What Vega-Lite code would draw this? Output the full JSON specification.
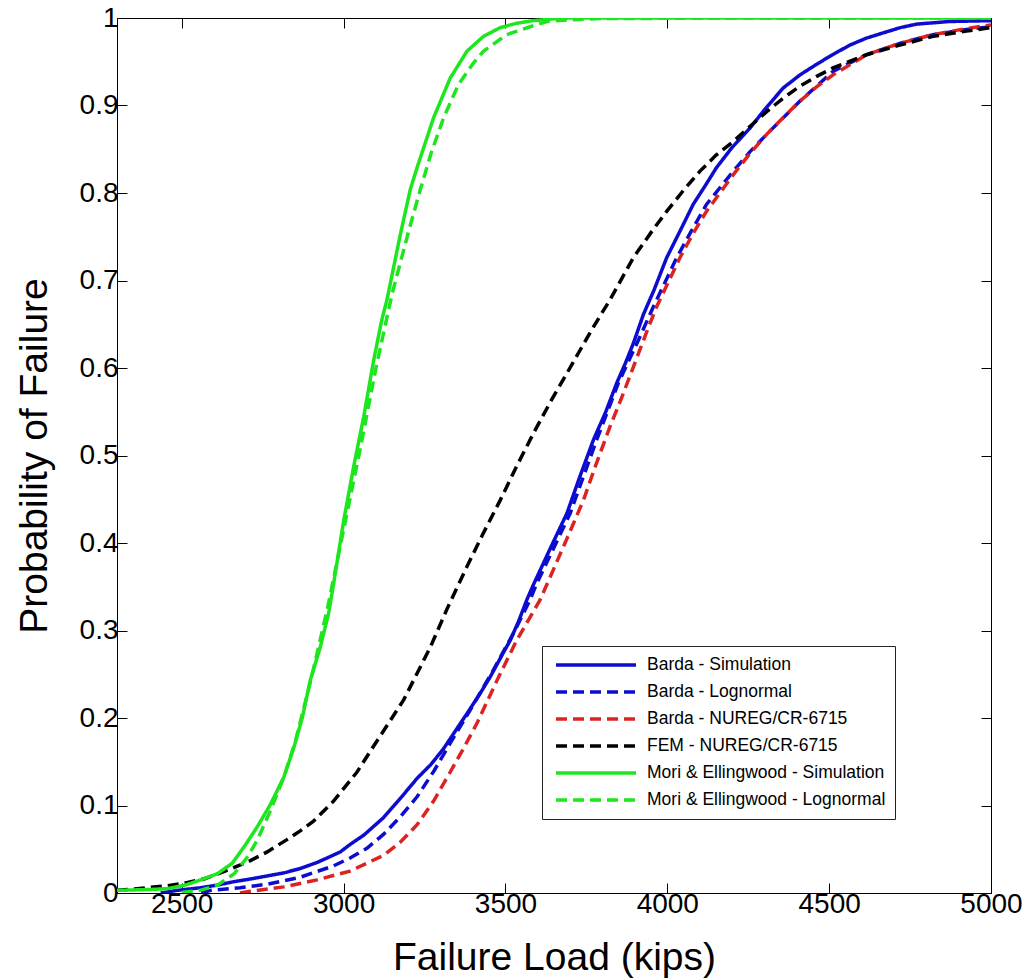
{
"$schema": "https://vega.github.io/schema/vega-lite/v6.json",
"width": 874, "height": 875,
"autosize": {"type": "none"},
"padding": {"left": 117, "top": 18, "right": 36, "bottom": 86},
"background": "white",
"config": {
  "view": {"stroke": "black", "strokeWidth": 1},
  "font": "Liberation Sans",
  "axis": {"domain": false, "grid": false, "tickColor": "black", "tickSize": -10, "tickWidth": 1, "labelFlush": false,
    "labelColor": "black", "titleColor": "black", "labelFont": "Liberation Sans", "titleFont": "Liberation Sans",
    "titleFontWeight": "normal", "labelFontSize": 28, "titleFontSize": 39}
},
"data": {"values": [
{"series":"Barda - Simulation","load":2435,"p":0.0},
{"series":"Barda - Simulation","load":2486,"p":0.003},
{"series":"Barda - Simulation","load":2558,"p":0.006},
{"series":"Barda - Simulation","load":2609,"p":0.009},
{"series":"Barda - Simulation","load":2662,"p":0.013},
{"series":"Barda - Simulation","load":2712,"p":0.016},
{"series":"Barda - Simulation","load":2816,"p":0.023},
{"series":"Barda - Simulation","load":2866,"p":0.028},
{"series":"Barda - Simulation","load":2919,"p":0.035},
{"series":"Barda - Simulation","load":2990,"p":0.047},
{"series":"Barda - Simulation","load":3022,"p":0.056},
{"series":"Barda - Simulation","load":3062,"p":0.066},
{"series":"Barda - Simulation","load":3123,"p":0.086},
{"series":"Barda - Simulation","load":3175,"p":0.108},
{"series":"Barda - Simulation","load":3227,"p":0.131},
{"series":"Barda - Simulation","load":3270,"p":0.147},
{"series":"Barda - Simulation","load":3309,"p":0.165},
{"series":"Barda - Simulation","load":3345,"p":0.185},
{"series":"Barda - Simulation","load":3381,"p":0.205},
{"series":"Barda - Simulation","load":3420,"p":0.227},
{"series":"Barda - Simulation","load":3453,"p":0.247},
{"series":"Barda - Simulation","load":3494,"p":0.275},
{"series":"Barda - Simulation","load":3515,"p":0.289},
{"series":"Barda - Simulation","load":3540,"p":0.31},
{"series":"Barda - Simulation","load":3566,"p":0.335},
{"series":"Barda - Simulation","load":3586,"p":0.352},
{"series":"Barda - Simulation","load":3640,"p":0.395},
{"series":"Barda - Simulation","load":3690,"p":0.434},
{"series":"Barda - Simulation","load":3730,"p":0.476},
{"series":"Barda - Simulation","load":3772,"p":0.518},
{"series":"Barda - Simulation","load":3810,"p":0.55},
{"series":"Barda - Simulation","load":3844,"p":0.583},
{"series":"Barda - Simulation","load":3870,"p":0.605},
{"series":"Barda - Simulation","load":3895,"p":0.628},
{"series":"Barda - Simulation","load":3926,"p":0.661},
{"series":"Barda - Simulation","load":3960,"p":0.69},
{"series":"Barda - Simulation","load":3998,"p":0.726},
{"series":"Barda - Simulation","load":4040,"p":0.757},
{"series":"Barda - Simulation","load":4080,"p":0.787},
{"series":"Barda - Simulation","load":4120,"p":0.81},
{"series":"Barda - Simulation","load":4152,"p":0.829},
{"series":"Barda - Simulation","load":4200,"p":0.852},
{"series":"Barda - Simulation","load":4255,"p":0.874},
{"series":"Barda - Simulation","load":4300,"p":0.895},
{"series":"Barda - Simulation","load":4358,"p":0.92},
{"series":"Barda - Simulation","load":4410,"p":0.935},
{"series":"Barda - Simulation","load":4461,"p":0.947},
{"series":"Barda - Simulation","load":4510,"p":0.958},
{"series":"Barda - Simulation","load":4564,"p":0.969},
{"series":"Barda - Simulation","load":4615,"p":0.977},
{"series":"Barda - Simulation","load":4667,"p":0.983},
{"series":"Barda - Simulation","load":4720,"p":0.989},
{"series":"Barda - Simulation","load":4770,"p":0.993},
{"series":"Barda - Simulation","load":4872,"p":0.996},
{"series":"Barda - Simulation","load":5000,"p":0.997},
{"series":"Barda - Lognormal","load":2560,"p":0.0},
{"series":"Barda - Lognormal","load":2589,"p":0.003},
{"series":"Barda - Lognormal","load":2680,"p":0.006},
{"series":"Barda - Lognormal","load":2764,"p":0.01},
{"series":"Barda - Lognormal","load":2866,"p":0.018},
{"series":"Barda - Lognormal","load":2969,"p":0.031},
{"series":"Barda - Lognormal","load":3020,"p":0.04},
{"series":"Barda - Lognormal","load":3072,"p":0.051},
{"series":"Barda - Lognormal","load":3123,"p":0.067},
{"series":"Barda - Lognormal","load":3175,"p":0.087},
{"series":"Barda - Lognormal","load":3227,"p":0.11},
{"series":"Barda - Lognormal","load":3280,"p":0.14},
{"series":"Barda - Lognormal","load":3329,"p":0.171},
{"series":"Barda - Lognormal","load":3391,"p":0.209},
{"series":"Barda - Lognormal","load":3463,"p":0.255},
{"series":"Barda - Lognormal","load":3504,"p":0.283},
{"series":"Barda - Lognormal","load":3525,"p":0.297},
{"series":"Barda - Lognormal","load":3576,"p":0.335},
{"series":"Barda - Lognormal","load":3597,"p":0.354},
{"series":"Barda - Lognormal","load":3650,"p":0.395},
{"series":"Barda - Lognormal","load":3700,"p":0.434},
{"series":"Barda - Lognormal","load":3740,"p":0.475},
{"series":"Barda - Lognormal","load":3782,"p":0.518},
{"series":"Barda - Lognormal","load":3815,"p":0.55},
{"series":"Barda - Lognormal","load":3849,"p":0.583},
{"series":"Barda - Lognormal","load":3906,"p":0.628},
{"series":"Barda - Lognormal","load":3957,"p":0.67},
{"series":"Barda - Lognormal","load":4029,"p":0.726},
{"series":"Barda - Lognormal","load":4075,"p":0.757},
{"series":"Barda - Lognormal","load":4121,"p":0.787},
{"series":"Barda - Lognormal","load":4204,"p":0.825},
{"series":"Barda - Lognormal","load":4255,"p":0.847},
{"series":"Barda - Lognormal","load":4307,"p":0.867},
{"series":"Barda - Lognormal","load":4410,"p":0.905},
{"series":"Barda - Lognormal","load":4512,"p":0.939},
{"series":"Barda - Lognormal","load":4615,"p":0.958},
{"series":"Barda - Lognormal","load":4718,"p":0.971},
{"series":"Barda - Lognormal","load":4821,"p":0.981},
{"series":"Barda - Lognormal","load":4924,"p":0.987},
{"series":"Barda - Lognormal","load":5000,"p":0.99},
{"series":"Barda - NUREG/CR-6715","load":2680,"p":0.0},
{"series":"Barda - NUREG/CR-6715","load":2712,"p":0.002},
{"series":"Barda - NUREG/CR-6715","load":2815,"p":0.007},
{"series":"Barda - NUREG/CR-6715","load":2918,"p":0.015},
{"series":"Barda - NUREG/CR-6715","load":3020,"p":0.025},
{"series":"Barda - NUREG/CR-6715","load":3123,"p":0.043},
{"series":"Barda - NUREG/CR-6715","load":3175,"p":0.058},
{"series":"Barda - NUREG/CR-6715","load":3227,"p":0.078},
{"series":"Barda - NUREG/CR-6715","load":3278,"p":0.105},
{"series":"Barda - NUREG/CR-6715","load":3329,"p":0.138},
{"series":"Barda - NUREG/CR-6715","load":3370,"p":0.165},
{"series":"Barda - NUREG/CR-6715","load":3412,"p":0.194},
{"series":"Barda - NUREG/CR-6715","load":3474,"p":0.243},
{"series":"Barda - NUREG/CR-6715","load":3535,"p":0.289},
{"series":"Barda - NUREG/CR-6715","load":3607,"p":0.335},
{"series":"Barda - NUREG/CR-6715","load":3638,"p":0.361},
{"series":"Barda - NUREG/CR-6715","load":3690,"p":0.405},
{"series":"Barda - NUREG/CR-6715","load":3741,"p":0.449},
{"series":"Barda - NUREG/CR-6715","load":3780,"p":0.49},
{"series":"Barda - NUREG/CR-6715","load":3823,"p":0.533},
{"series":"Barda - NUREG/CR-6715","load":3860,"p":0.567},
{"series":"Barda - NUREG/CR-6715","load":3895,"p":0.601},
{"series":"Barda - NUREG/CR-6715","load":3935,"p":0.64},
{"series":"Barda - NUREG/CR-6715","load":3967,"p":0.67},
{"series":"Barda - NUREG/CR-6715","load":4039,"p":0.726},
{"series":"Barda - NUREG/CR-6715","load":4080,"p":0.754},
{"series":"Barda - NUREG/CR-6715","load":4121,"p":0.779},
{"series":"Barda - NUREG/CR-6715","load":4204,"p":0.821},
{"series":"Barda - NUREG/CR-6715","load":4255,"p":0.845},
{"series":"Barda - NUREG/CR-6715","load":4307,"p":0.867},
{"series":"Barda - NUREG/CR-6715","load":4360,"p":0.887},
{"series":"Barda - NUREG/CR-6715","load":4410,"p":0.905},
{"series":"Barda - NUREG/CR-6715","load":4460,"p":0.921},
{"series":"Barda - NUREG/CR-6715","load":4512,"p":0.935},
{"series":"Barda - NUREG/CR-6715","load":4615,"p":0.958},
{"series":"Barda - NUREG/CR-6715","load":4718,"p":0.971},
{"series":"Barda - NUREG/CR-6715","load":4821,"p":0.981},
{"series":"Barda - NUREG/CR-6715","load":4924,"p":0.988},
{"series":"Barda - NUREG/CR-6715","load":5000,"p":0.992},
{"series":"FEM - NUREG/CR-6715","load":2300,"p":0.003},
{"series":"FEM - NUREG/CR-6715","load":2362,"p":0.005},
{"series":"FEM - NUREG/CR-6715","load":2450,"p":0.008},
{"series":"FEM - NUREG/CR-6715","load":2506,"p":0.011},
{"series":"FEM - NUREG/CR-6715","load":2568,"p":0.016},
{"series":"FEM - NUREG/CR-6715","load":2620,"p":0.023},
{"series":"FEM - NUREG/CR-6715","load":2681,"p":0.032},
{"series":"FEM - NUREG/CR-6715","load":2712,"p":0.037},
{"series":"FEM - NUREG/CR-6715","load":2764,"p":0.047},
{"series":"FEM - NUREG/CR-6715","load":2825,"p":0.061},
{"series":"FEM - NUREG/CR-6715","load":2866,"p":0.071},
{"series":"FEM - NUREG/CR-6715","load":2907,"p":0.082},
{"series":"FEM - NUREG/CR-6715","load":2969,"p":0.105},
{"series":"FEM - NUREG/CR-6715","load":3041,"p":0.138},
{"series":"FEM - NUREG/CR-6715","load":3093,"p":0.168},
{"series":"FEM - NUREG/CR-6715","load":3144,"p":0.197},
{"series":"FEM - NUREG/CR-6715","load":3186,"p":0.221},
{"series":"FEM - NUREG/CR-6715","load":3268,"p":0.281},
{"series":"FEM - NUREG/CR-6715","load":3320,"p":0.325},
{"series":"FEM - NUREG/CR-6715","load":3381,"p":0.373},
{"series":"FEM - NUREG/CR-6715","load":3430,"p":0.41},
{"series":"FEM - NUREG/CR-6715","load":3484,"p":0.449},
{"series":"FEM - NUREG/CR-6715","load":3535,"p":0.488},
{"series":"FEM - NUREG/CR-6715","load":3586,"p":0.525},
{"series":"FEM - NUREG/CR-6715","load":3640,"p":0.562},
{"series":"FEM - NUREG/CR-6715","load":3690,"p":0.594},
{"series":"FEM - NUREG/CR-6715","load":3730,"p":0.62},
{"series":"FEM - NUREG/CR-6715","load":3772,"p":0.647},
{"series":"FEM - NUREG/CR-6715","load":3823,"p":0.678},
{"series":"FEM - NUREG/CR-6715","load":3895,"p":0.726},
{"series":"FEM - NUREG/CR-6715","load":3950,"p":0.755},
{"series":"FEM - NUREG/CR-6715","load":3998,"p":0.779},
{"series":"FEM - NUREG/CR-6715","load":4050,"p":0.803},
{"series":"FEM - NUREG/CR-6715","load":4101,"p":0.825},
{"series":"FEM - NUREG/CR-6715","load":4150,"p":0.843},
{"series":"FEM - NUREG/CR-6715","load":4204,"p":0.859},
{"series":"FEM - NUREG/CR-6715","load":4255,"p":0.876},
{"series":"FEM - NUREG/CR-6715","load":4307,"p":0.893},
{"series":"FEM - NUREG/CR-6715","load":4360,"p":0.909},
{"series":"FEM - NUREG/CR-6715","load":4410,"p":0.922},
{"series":"FEM - NUREG/CR-6715","load":4460,"p":0.933},
{"series":"FEM - NUREG/CR-6715","load":4512,"p":0.943},
{"series":"FEM - NUREG/CR-6715","load":4615,"p":0.958},
{"series":"FEM - NUREG/CR-6715","load":4718,"p":0.969},
{"series":"FEM - NUREG/CR-6715","load":4821,"p":0.979},
{"series":"FEM - NUREG/CR-6715","load":4924,"p":0.985},
{"series":"FEM - NUREG/CR-6715","load":5000,"p":0.989},
{"series":"Mori & Ellingwood - Simulation","load":2300,"p":0.003},
{"series":"Mori & Ellingwood - Simulation","load":2400,"p":0.004},
{"series":"Mori & Ellingwood - Simulation","load":2456,"p":0.005},
{"series":"Mori & Ellingwood - Simulation","load":2510,"p":0.009},
{"series":"Mori & Ellingwood - Simulation","load":2559,"p":0.015},
{"series":"Mori & Ellingwood - Simulation","load":2610,"p":0.022},
{"series":"Mori & Ellingwood - Simulation","load":2656,"p":0.034},
{"series":"Mori & Ellingwood - Simulation","load":2693,"p":0.053},
{"series":"Mori & Ellingwood - Simulation","load":2734,"p":0.076},
{"series":"Mori & Ellingwood - Simulation","load":2775,"p":0.102},
{"series":"Mori & Ellingwood - Simulation","load":2816,"p":0.133},
{"series":"Mori & Ellingwood - Simulation","load":2847,"p":0.167},
{"series":"Mori & Ellingwood - Simulation","load":2873,"p":0.201},
{"series":"Mori & Ellingwood - Simulation","load":2897,"p":0.243},
{"series":"Mori & Ellingwood - Simulation","load":2928,"p":0.281},
{"series":"Mori & Ellingwood - Simulation","load":2954,"p":0.32},
{"series":"Mori & Ellingwood - Simulation","load":2972,"p":0.36},
{"series":"Mori & Ellingwood - Simulation","load":3000,"p":0.425},
{"series":"Mori & Ellingwood - Simulation","load":3031,"p":0.487},
{"series":"Mori & Ellingwood - Simulation","load":3062,"p":0.544},
{"series":"Mori & Ellingwood - Simulation","load":3093,"p":0.609},
{"series":"Mori & Ellingwood - Simulation","load":3118,"p":0.655},
{"series":"Mori & Ellingwood - Simulation","load":3134,"p":0.678},
{"series":"Mori & Ellingwood - Simulation","load":3175,"p":0.752},
{"series":"Mori & Ellingwood - Simulation","load":3206,"p":0.804},
{"series":"Mori & Ellingwood - Simulation","load":3227,"p":0.829},
{"series":"Mori & Ellingwood - Simulation","load":3278,"p":0.886},
{"series":"Mori & Ellingwood - Simulation","load":3329,"p":0.931},
{"series":"Mori & Ellingwood - Simulation","load":3381,"p":0.962},
{"series":"Mori & Ellingwood - Simulation","load":3432,"p":0.979},
{"series":"Mori & Ellingwood - Simulation","load":3484,"p":0.989},
{"series":"Mori & Ellingwood - Simulation","load":3535,"p":0.994},
{"series":"Mori & Ellingwood - Simulation","load":3586,"p":0.997},
{"series":"Mori & Ellingwood - Simulation","load":3650,"p":0.999},
{"series":"Mori & Ellingwood - Simulation","load":3700,"p":1.0},
{"series":"Mori & Ellingwood - Simulation","load":5000,"p":1.0},
{"series":"Mori & Ellingwood - Lognormal","load":2500,"p":0.0005},
{"series":"Mori & Ellingwood - Lognormal","load":2557,"p":0.003},
{"series":"Mori & Ellingwood - Lognormal","load":2610,"p":0.009},
{"series":"Mori & Ellingwood - Lognormal","load":2662,"p":0.022},
{"series":"Mori & Ellingwood - Lognormal","load":2703,"p":0.041},
{"series":"Mori & Ellingwood - Lognormal","load":2734,"p":0.061},
{"series":"Mori & Ellingwood - Lognormal","load":2775,"p":0.095},
{"series":"Mori & Ellingwood - Lognormal","load":2816,"p":0.133},
{"series":"Mori & Ellingwood - Lognormal","load":2850,"p":0.172},
{"series":"Mori & Ellingwood - Lognormal","load":2900,"p":0.245},
{"series":"Mori & Ellingwood - Lognormal","load":2950,"p":0.325},
{"series":"Mori & Ellingwood - Lognormal","load":3000,"p":0.415},
{"series":"Mori & Ellingwood - Lognormal","load":3050,"p":0.505},
{"series":"Mori & Ellingwood - Lognormal","load":3100,"p":0.6},
{"series":"Mori & Ellingwood - Lognormal","load":3150,"p":0.685},
{"series":"Mori & Ellingwood - Lognormal","load":3200,"p":0.755},
{"series":"Mori & Ellingwood - Lognormal","load":3237,"p":0.804},
{"series":"Mori & Ellingwood - Lognormal","load":3270,"p":0.845},
{"series":"Mori & Ellingwood - Lognormal","load":3309,"p":0.886},
{"series":"Mori & Ellingwood - Lognormal","load":3355,"p":0.924},
{"series":"Mori & Ellingwood - Lognormal","load":3400,"p":0.948},
{"series":"Mori & Ellingwood - Lognormal","load":3432,"p":0.962},
{"series":"Mori & Ellingwood - Lognormal","load":3504,"p":0.981},
{"series":"Mori & Ellingwood - Lognormal","load":3576,"p":0.99},
{"series":"Mori & Ellingwood - Lognormal","load":3628,"p":0.996},
{"series":"Mori & Ellingwood - Lognormal","load":3700,"p":0.998},
{"series":"Mori & Ellingwood - Lognormal","load":3800,"p":0.9995},
{"series":"Mori & Ellingwood - Lognormal","load":5000,"p":1.0}
]},
"layer": [
  {
    "mark": {"type": "line", "strokeWidth": 3.5, "clip": true},
    "encoding": {
      "x": {"field": "load", "type": "quantitative",
        "scale": {"domain": [2300, 5000], "nice": false, "zero": false},
        "axis": {"orient": "bottom", "values": [2500, 3000, 3500, 4000, 4500, 5000], "format": "d",
          "title": "Failure Load (kips)", "labelPadding": 7, "titlePadding": 20}},
      "y": {"field": "p", "type": "quantitative",
        "scale": {"domain": [0, 1], "nice": false},
        "axis": {"orient": "left", "values": [0, 0.1, 0.2, 0.3, 0.4, 0.5, 0.6, 0.7, 0.8, 0.9, 1], "format": "~g",
          "title": "Probability of Failure", "labelPadding": 9, "titlePadding": 25}},
      "color": {"field": "series", "type": "nominal",
        "scale": {"domain": ["Barda - Simulation", "Barda - Lognormal", "Barda - NUREG/CR-6715", "FEM - NUREG/CR-6715", "Mori & Ellingwood - Simulation", "Mori & Ellingwood - Lognormal"],
          "range": ["#0c0cd0", "#0c0cd0", "#dd2222", "#000000", "#1ee61e", "#1ee61e"]},
        "legend": {"orient": "none", "legendX": 425, "legendY": 628, "title": null,
          "strokeColor": "#222222", "fillColor": "white", "padding": 9,
          "symbolType": "stroke", "symbolSize": 6400, "symbolStrokeWidth": 3.5,
          "labelFontSize": 17.5, "labelFont": "Liberation Sans", "labelColor": "black", "labelLimit": 400,
          "clipHeight": 20, "rowPadding": 7, "symbolOffset": 3, "labelOffset": 9}},
      "strokeDash": {"field": "series", "type": "nominal",
        "scale": {"domain": ["Barda - Simulation", "Barda - Lognormal", "Barda - NUREG/CR-6715", "FEM - NUREG/CR-6715", "Mori & Ellingwood - Simulation", "Mori & Ellingwood - Lognormal"],
          "range": [[1, 0], [11, 6], [11, 6], [11, 6], [1, 0], [11, 6]]}}
    }
  },
  {
    "mark": {"type": "point", "opacity": 0},
    "encoding": {
      "x": {"field": "load", "type": "quantitative",
        "axis": {"orient": "top", "values": [2500, 3000, 3500, 4000, 4500, 5000], "labels": false, "title": null}},
      "y": {"field": "p", "type": "quantitative",
        "axis": {"orient": "right", "values": [0, 0.1, 0.2, 0.3, 0.4, 0.5, 0.6, 0.7, 0.8, 0.9, 1], "labels": false, "title": null}}
    }
  }
],
"resolve": {"axis": {"x": "independent", "y": "independent"}}
}
